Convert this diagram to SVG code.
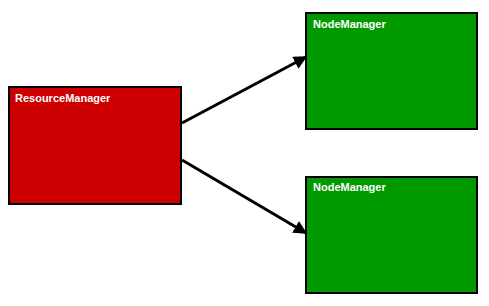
<svg xmlns="http://www.w3.org/2000/svg" width="489" height="306" viewBox="0 0 489 306">
<style>
.box{stroke:#000;stroke-width:2}
.lbl{font-family:"Liberation Sans",Arial,sans-serif;font-size:11px;font-weight:bold;fill:#fff}
.conn{stroke:#000;stroke-width:3;fill:none}
</style>
<defs>
<marker id="ah" viewBox="0 0 10 10" refX="9" refY="5" markerWidth="4.5" markerHeight="4.5" orient="auto" markerUnits="strokeWidth">
<path d="M0,0 L10,5 L0,10 z" fill="#000"/>
</marker>
</defs>
<rect width="489" height="306" fill="#fff"/>
<g id="rm">
<rect class="box" x="9" y="87" width="172" height="117" fill="#CC0000"/>
<text class="lbl" x="15" y="102">ResourceManager</text>
</g>
<g id="nm1">
<rect class="box" x="306" y="13" width="171" height="116" fill="#009900"/>
<text class="lbl" x="313" y="28">NodeManager</text>
</g>
<g id="nm2">
<rect class="box" x="306" y="177" width="171" height="116" fill="#009900"/>
<text class="lbl" x="313" y="191">NodeManager</text>
</g>
<g id="connectors">
<line class="conn" x1="182" y1="123" x2="306" y2="57" marker-end="url(#ah)"/>
<line class="conn" x1="182" y1="160" x2="306" y2="233" marker-end="url(#ah)"/>
</g>
</svg>
